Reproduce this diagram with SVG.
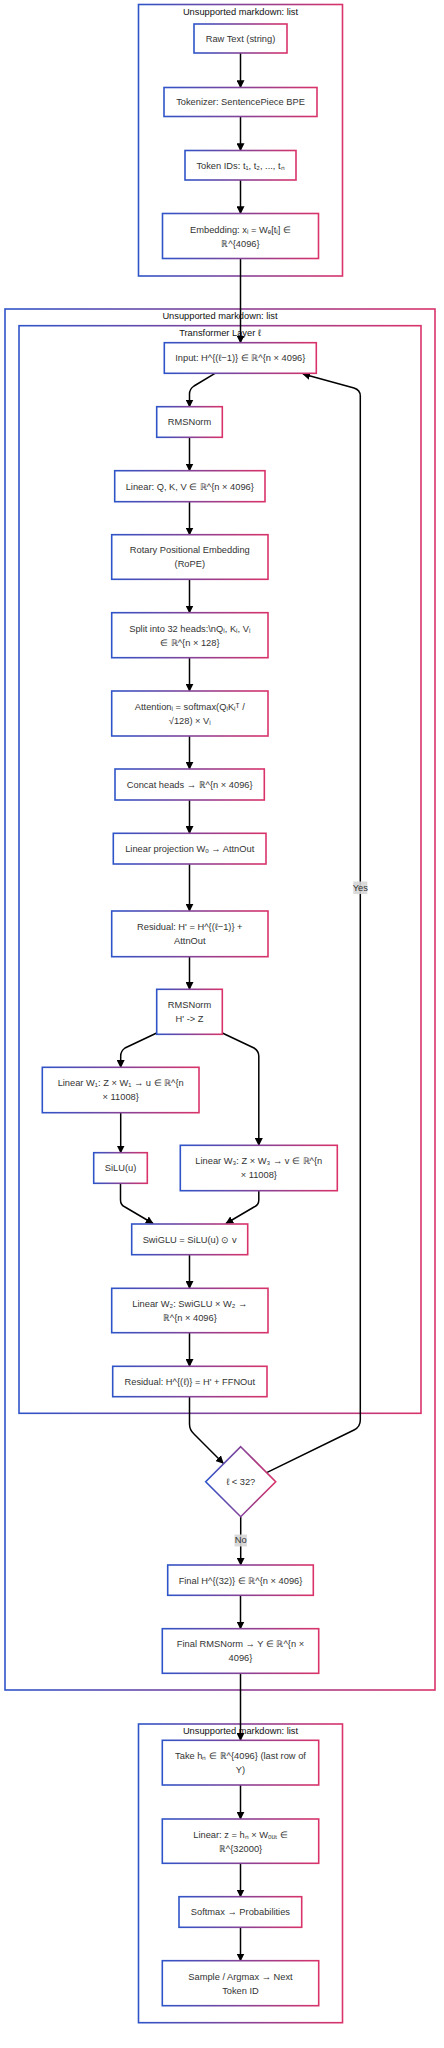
<svg xmlns="http://www.w3.org/2000/svg" width="444" height="2048" viewBox="0 0 444 2048">
<defs>
<linearGradient id="g" x1="0" y1="0" x2="1" y2="0">
<stop offset="0" stop-color="#2f54c8"/>
<stop offset="1" stop-color="#d9336a"/>
</linearGradient>
<marker id="arr" viewBox="0 0 10 10" refX="9" refY="5" markerUnits="userSpaceOnUse" markerWidth="8" markerHeight="8" orient="auto">
<path d="M0,0 L10,5 L0,10 z" fill="#000"/>
</marker>
</defs>
<style>
.cl{fill:none;stroke:url(#g);stroke-width:1.6}
.nd{fill:#fff;stroke:url(#g);stroke-width:1.6}
.t{font-family:"Liberation Sans",Arial,sans-serif;font-size:9.3px;fill:#333;text-anchor:middle}
.ct{font-family:"Liberation Sans",Arial,sans-serif;font-size:9.3px;fill:#111;text-anchor:middle}
.e{fill:none;stroke:#000;stroke-width:1.5;marker-end:url(#arr)}
.lb{fill:#d6d6d6;opacity:0.9}
</style>
<rect width="444" height="2048" fill="#fff"/>

<g id="cluster-input">
<rect class="cl" x="138.5" y="4.5" width="204" height="271.5"/>
<text class="ct" x="240.5" y="15.3">Unsupported markdown: list</text>
</g>
<g id="cluster-stack">
<rect class="cl" x="5" y="309" width="430" height="1381"/>
<text class="ct" x="220" y="319.3">Unsupported markdown: list</text>
</g>
<g id="cluster-layer">
<rect class="cl" x="19" y="325.7" width="402" height="1087.6"/>
<text class="ct" x="220" y="336">Transformer Layer ℓ</text>
</g>
<g id="cluster-output">
<rect class="cl" x="138.5" y="1724" width="204" height="298.7"/>
<text class="ct" x="240.5" y="1734.3">Unsupported markdown: list</text>
</g>

<g id="connectors">
<path class="e" d="M240.5 53 V87.5"/>
<path class="e" d="M240.5 116.5 V150.5"/>
<path class="e" d="M240.5 180 V213.5"/>
<path class="e" d="M240.5 258.5 V342.7"/>
<path class="e" d="M215 373.3 L194 386 Q189.5 389 189.5 394 V406.7"/>
<path class="e" d="M189.5 437.3 V470.7"/>
<path class="e" d="M189.5 501.7 V534.7"/>
<path class="e" d="M189.5 579.3 V612.7"/>
<path class="e" d="M189.5 657.7 V691"/>
<path class="e" d="M189.5 736 V769"/>
<path class="e" d="M189.5 800 V833.3"/>
<path class="e" d="M189.5 864 V911"/>
<path class="e" d="M189.5 956.7 V989.3"/>
<path class="e" d="M156.7 1033 L125 1048 Q120.7 1051 120.7 1056 V1067.3"/>
<path class="e" d="M222.3 1033 L254 1048 Q258.8 1051 258.8 1056 V1145.3"/>
<path class="e" d="M120.7 1112.7 V1152.7"/>
<path class="e" d="M120.5 1183.3 V1200 Q120.5 1205 125 1207 L153 1223.5"/>
<path class="e" d="M258.8 1190.7 V1200 Q258.8 1205 254 1207 L226 1223.5"/>
<path class="e" d="M189.5 1254.7 V1288.3"/>
<path class="e" d="M189.5 1332.7 V1366.3"/>
<path class="e" d="M189.5 1396.7 V1424 Q189.5 1430 194 1434 L223.2 1463.2"/>
<path class="e" d="M266.7 1472.7 L354 1430 Q360.3 1427 360.3 1420 V396 Q360.3 390 354 388 L303 374"/>
<path class="e" d="M240.7 1516.7 V1565"/>
<path class="e" d="M240.5 1595.3 V1628.7"/>
<path class="e" d="M240.5 1673.3 V1740.3"/>
<path class="e" d="M240.5 1785 V1819"/>
<path class="e" d="M240.5 1863.3 V1896.7"/>
<path class="e" d="M240.5 1927.3 V1960.7"/>
<g id="label-yes">
<rect class="lb" x="353.3" y="881.5" width="14" height="12.5"/>
<text class="t" x="360.3" y="890.6" fill="#444">Yes</text>
</g>
<g id="label-no">
<rect class="lb" x="234.5" y="1534.5" width="12.4" height="12"/>
<text class="t" x="240.7" y="1543.4">No</text>
</g>
</g>

<g id="raw-text">
<rect class="nd" x="194" y="24" width="93" height="29"/>
<text class="t" x="240.5" y="41.8">Raw Text (string)</text>
</g>
<g id="tokenizer">
<rect class="nd" x="164" y="87.5" width="153" height="29"/>
<text class="t" x="240.5" y="105.3">Tokenizer: SentencePiece BPE</text>
</g>
<g id="token-ids">
<rect class="nd" x="185" y="150.5" width="111" height="29.5"/>
<text class="t" x="240.5" y="168.5">Token IDs: t₁, t₂, ..., tₙ</text>
</g>
<g id="embedding">
<rect class="nd" x="162.5" y="213.5" width="156" height="45"/>
<text class="t" x="240.5" y="233.3">Embedding: xᵢ = Wₑ[tᵢ] ∈</text>
<text class="t" x="240.5" y="247.3">ℝ^{4096}</text>
</g>

<g id="input">
<rect class="nd" x="164.3" y="342.7" width="152" height="30.6"/>
<text class="t" x="240.3" y="361.3">Input: H^{(ℓ−1)} ∈ ℝ^{n × 4096}</text>
</g>
<g id="rmsnorm1">
<rect class="nd" x="156.7" y="406.7" width="65.6" height="30.6"/>
<text class="t" x="189.5" y="425.3">RMSNorm</text>
</g>
<g id="linear-qkv">
<rect class="nd" x="114.7" y="470.7" width="150.3" height="31"/>
<text class="t" x="189.8" y="489.5">Linear: Q, K, V ∈ ℝ^{n × 4096}</text>
</g>
<g id="rope">
<rect class="nd" x="111.7" y="534.7" width="156.3" height="44.6"/>
<text class="t" x="189.8" y="553.3">Rotary Positional Embedding</text>
<text class="t" x="189.8" y="567.3">(RoPE)</text>
</g>
<g id="split">
<rect class="nd" x="111.7" y="612.7" width="156.3" height="45"/>
<text class="t" x="189.8" y="631.5">Split into 32 heads:\nQᵢ, Kᵢ, Vᵢ</text>
<text class="t" x="189.8" y="645.5">∈ ℝ^{n × 128}</text>
</g>
<g id="attention">
<rect class="nd" x="111.7" y="691" width="156.3" height="45"/>
<text class="t" x="189.8" y="709.8">Attentionᵢ = softmax(QᵢKᵢᵀ /</text>
<text class="t" x="189.8" y="723.8">√128) × Vᵢ</text>
</g>
<g id="concat">
<rect class="nd" x="115" y="769" width="149.3" height="31"/>
<text class="t" x="189.7" y="787.8">Concat heads → ℝ^{n × 4096}</text>
</g>
<g id="linear-proj">
<rect class="nd" x="113.3" y="833.3" width="152.7" height="30.7"/>
<text class="t" x="189.7" y="852">Linear projection Wₒ → AttnOut</text>
</g>
<g id="residual1">
<rect class="nd" x="111.7" y="911" width="156.3" height="45.7"/>
<text class="t" x="189.8" y="929.8">Residual: H' = H^{(ℓ−1)} +</text>
<text class="t" x="189.8" y="943.8">AttnOut</text>
</g>
<g id="rmsnorm2">
<rect class="nd" x="156.7" y="989.3" width="65.6" height="45"/>
<text class="t" x="189.5" y="1007.8">RMSNorm</text>
<text class="t" x="189.5" y="1021.8">H' -&gt; Z</text>
</g>
<g id="linear-w1">
<rect class="nd" x="42.3" y="1067.3" width="156.7" height="45.4"/>
<text class="t" x="120.7" y="1086">Linear W₁: Z × W₁ → u ∈ ℝ^{n</text>
<text class="t" x="120.7" y="1100">× 11008}</text>
</g>
<g id="silu">
<rect class="nd" x="93.7" y="1152.7" width="53.6" height="30.6"/>
<text class="t" x="120.5" y="1171.3">SiLU(u)</text>
</g>
<g id="linear-w3">
<rect class="nd" x="180.3" y="1145.3" width="157" height="45.4"/>
<text class="t" x="258.8" y="1164">Linear W₃: Z × W₃ → v ∈ ℝ^{n</text>
<text class="t" x="258.8" y="1178">× 11008}</text>
</g>
<g id="swiglu">
<rect class="nd" x="131.7" y="1224" width="116" height="30.7"/>
<text class="t" x="189.7" y="1242.6">SwiGLU = SiLU(u) ⊙ v</text>
</g>
<g id="linear-w2">
<rect class="nd" x="111.7" y="1288.3" width="156.3" height="44.4"/>
<text class="t" x="189.8" y="1306.8">Linear W₂: SwiGLU × W₂ →</text>
<text class="t" x="189.8" y="1320.8">ℝ^{n × 4096}</text>
</g>
<g id="residual2">
<rect class="nd" x="112.7" y="1366.3" width="154.3" height="30.4"/>
<text class="t" x="189.8" y="1384.8">Residual: H^{(ℓ)} = H' + FFNOut</text>
</g>

<g id="decision">
<polygon class="nd" points="240.7,1446.7 275.7,1481.7 240.7,1516.7 205.7,1481.7"/>
<text class="t" x="240.7" y="1485">ℓ &lt; 32?</text>
</g>
<g id="final-h">
<rect class="nd" x="167.7" y="1565" width="145.6" height="30.3"/>
<text class="t" x="240.5" y="1583.5">Final H^{(32)} ∈ ℝ^{n × 4096}</text>
</g>
<g id="final-rmsnorm">
<rect class="nd" x="162.3" y="1628.7" width="156.4" height="44.6"/>
<text class="t" x="240.5" y="1647.3">Final RMSNorm → Y ∈ ℝ^{n ×</text>
<text class="t" x="240.5" y="1661.3">4096}</text>
</g>

<g id="take-last">
<rect class="nd" x="162.3" y="1740.3" width="156.4" height="44.7"/>
<text class="t" x="240.5" y="1758.9">Take hₙ ∈ ℝ^{4096} (last row of</text>
<text class="t" x="240.5" y="1772.9">Y)</text>
</g>
<g id="linear-out">
<rect class="nd" x="162.3" y="1819" width="156.4" height="44.3"/>
<text class="t" x="240.5" y="1837.5">Linear: z = hₙ × Wₒᵤₜ ∈</text>
<text class="t" x="240.5" y="1851.5">ℝ^{32000}</text>
</g>
<g id="softmax">
<rect class="nd" x="179" y="1896.7" width="122.7" height="30.6"/>
<text class="t" x="240.4" y="1915.3">Softmax → Probabilities</text>
</g>
<g id="sample">
<rect class="nd" x="162.3" y="1960.7" width="156.4" height="45"/>
<text class="t" x="240.5" y="1979.5">Sample / Argmax → Next</text>
<text class="t" x="240.5" y="1993.5">Token ID</text>
</g>
</svg>
